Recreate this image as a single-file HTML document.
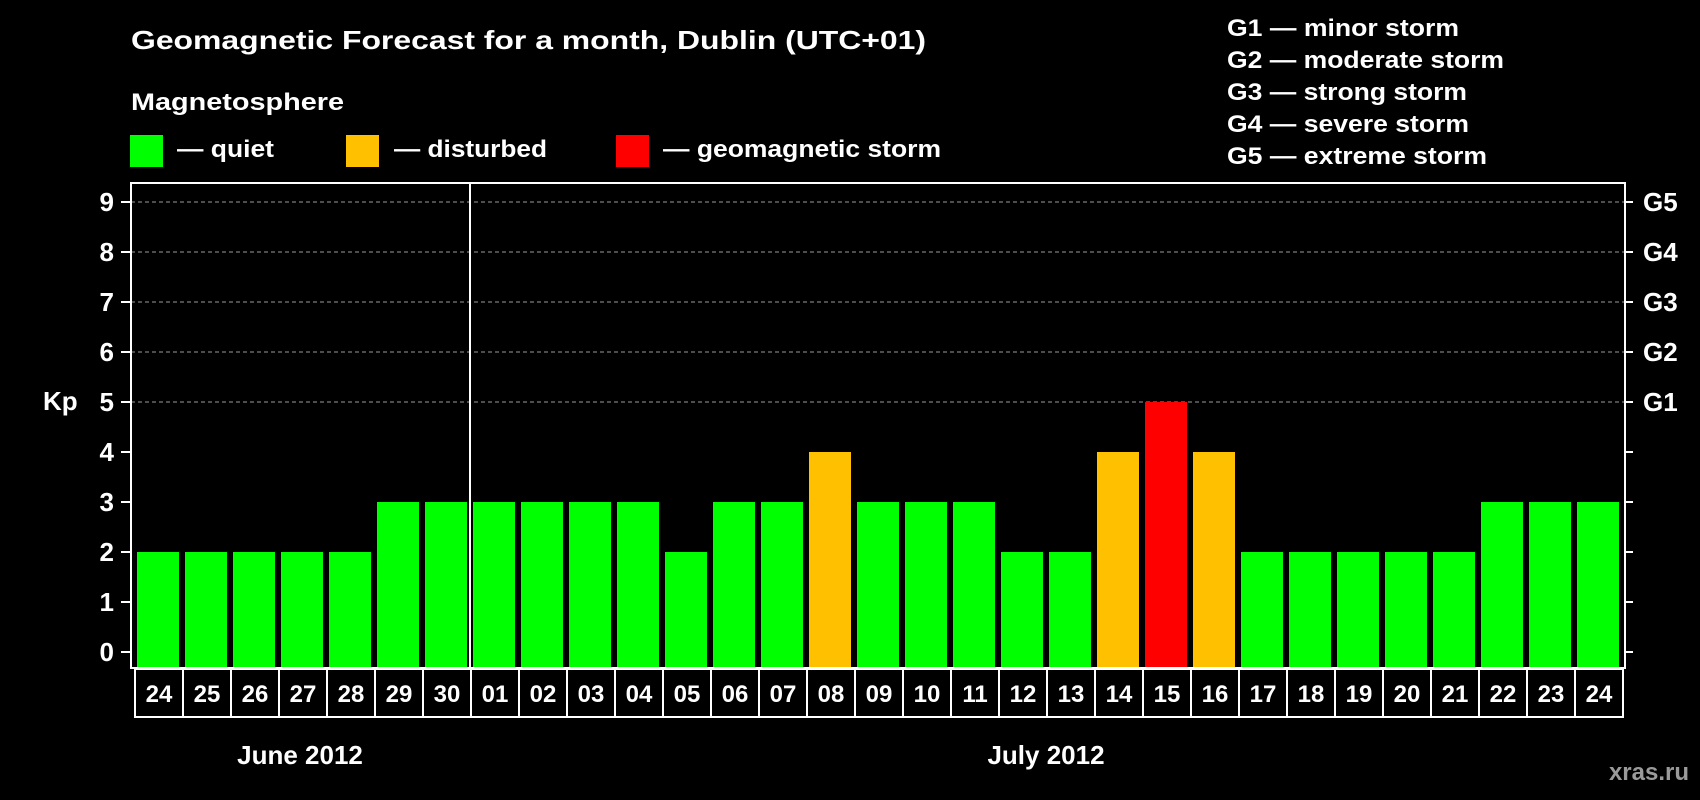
<!DOCTYPE html>
<html><head><meta charset="utf-8"><style>html,body{margin:0;padding:0;background:#000}svg{display:block}text{font-family:"Liberation Sans",Arial,sans-serif;font-weight:bold;fill:#fff}</style></head>
<body>
<svg id="chart" width="1700" height="800" viewBox="0 0 1700 800" xmlns="http://www.w3.org/2000/svg">
<rect width="1700" height="800" fill="#000"/>
<text x="131" y="49" font-size="26" textLength="795" lengthAdjust="spacingAndGlyphs">Geomagnetic Forecast for a month, Dublin (UTC+01)</text>
<text x="131" y="110" font-size="24" textLength="213" lengthAdjust="spacingAndGlyphs">Magnetosphere</text>
<rect x="130" y="135" width="33" height="32" fill="#00ff00"/>
<text x="177" y="157" font-size="24" textLength="97" lengthAdjust="spacingAndGlyphs">— quiet</text>
<rect x="346" y="135" width="33" height="32" fill="#ffc000"/>
<text x="394" y="157" font-size="24" textLength="153" lengthAdjust="spacingAndGlyphs">— disturbed</text>
<rect x="616" y="135" width="33" height="32" fill="#ff0000"/>
<text x="663" y="157" font-size="24" textLength="278" lengthAdjust="spacingAndGlyphs">— geomagnetic storm</text>
<g font-size="24">
<text x="1227" y="36" textLength="232" lengthAdjust="spacingAndGlyphs">G1 — minor storm</text>
<text x="1227" y="68" textLength="277" lengthAdjust="spacingAndGlyphs">G2 — moderate storm</text>
<text x="1227" y="100" textLength="240" lengthAdjust="spacingAndGlyphs">G3 — strong storm</text>
<text x="1227" y="132" textLength="242" lengthAdjust="spacingAndGlyphs">G4 — severe storm</text>
<text x="1227" y="164" textLength="260" lengthAdjust="spacingAndGlyphs">G5 — extreme storm</text>
</g>
<g id="plot"></g>
<text x="43" y="410" font-size="26">Kp</text>
<text x="300" y="764" font-size="26" text-anchor="middle">June 2012</text>
<text x="1046" y="764" font-size="26" text-anchor="middle">July 2012</text>
<text x="1689" y="780" font-size="24" text-anchor="end" style="fill:#9a9a9a">xras.ru</text>
</svg>
<script>
const days = ["24","25","26","27","28","29","30","01","02","03","04","05","06","07","08","09","10","11","12","13","14","15","16","17","18","19","20","21","22","23","24"];
const kpValues = [2,2,2,2,2,3,3,3,3,3,3,2,3,3,4,3,3,3,2,2,4,5,4,2,2,2,2,2,3,3,3];
const yTicks = [0,1,2,3,4,5,6,7,8,9];
const stormLabels = ["","","","","","G1","G2","G3","G4","G5"];
const monthBreakIndex = 7;

const NS="http://www.w3.org/2000/svg";
const g=document.getElementById('plot');
const fx0=131,fx1=1625,fy0=183,fy1=668,slot0=134,pitch=48;
const y=v=>652-50*v;
const x=i=>slot0+pitch*i;
function mk(t,a){const e=document.createElementNS(NS,t);for(const k in a)e.setAttribute(k,a[k]);g.appendChild(e);return e;}
function col(v){return v>=5?'#ff0000':(v>=4?'#ffc000':'#00ff00');}
yTicks.forEach((t,i)=>{
  if(t>=5){const l=mk('line',{x1:fx0,x2:fx1,y1:y(t),y2:y(t),stroke:'#9a9a9a','stroke-width':1,'stroke-dasharray':'4,3'});
  
  }
  const tl=mk('line',{x1:fx0-10,x2:fx0,y1:y(t),y2:y(t),stroke:'#fff','stroke-width':2});
  
  
  const tr=mk('line',{x1:fx1,x2:fx1+8,y1:y(t),y2:y(t),stroke:'#fff','stroke-width':2});
  
  
  const lb=mk('text',{x:114,y:y(t)+9,'font-size':26,'text-anchor':'end'});lb.textContent=t;
  
  
  if(stormLabels[i]){const s=mk('text',{x:1643,y:y(t)+9,'font-size':26});s.textContent=stormLabels[i];
  
  }
});
kpValues.forEach((v,i)=>{
  const r=mk('rect',{x:x(i)+3,y:y(v),width:42,height:fy1-1-y(v),fill:col(v)});
  
  
  const b=mk('rect',{x:x(i)+1,y:669,width:pitch,height:48,fill:'none',stroke:'#fff','stroke-width':2});
  
  
  const t=mk('text',{x:x(i)+pitch/2+1,y:702,'font-size':24,'text-anchor':'middle'});t.textContent=days[i];
  
  
});
const fr=mk('rect',{x:fx0,y:fy0,width:fx1-fx0,height:fy1-fy0,fill:'none',stroke:'#fff','stroke-width':2});


const sep=mk('line',{x1:x(monthBreakIndex),x2:x(monthBreakIndex),y1:fy0,y2:fy1,stroke:'#fff','stroke-width':2});


</script>
</body></html>
